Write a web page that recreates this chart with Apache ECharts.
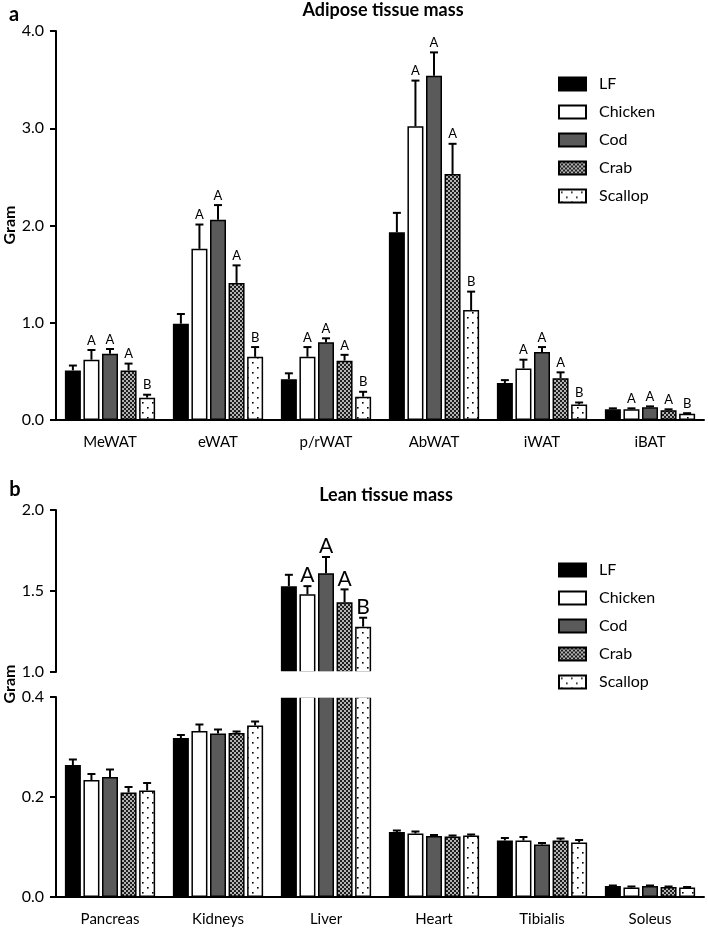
<!DOCTYPE html>
<html>
<head>
<meta charset="utf-8">
<script src="https://cdn.jsdelivr.net/npm/echarts@6/dist/echarts.min.js"></script>
<style>
  html, body { margin: 0; padding: 0; background: #fff; }
  #main { width: 708px; height: 928px; }
</style>
</head>
<body>
<div id="main"></div>
<script>
// 数据
var names = ["LF", "Chicken", "Cod", "Crab", "Scallop"];

var catsA = ["MeWAT", "eWAT", "p/rWAT", "AbWAT", "iWAT", "iBAT"];
var lfA = [0.51, 0.99, 0.42, 1.93, 0.38, 0.11];
var chickenA = [0.62, 1.76, 0.65, 3.02, 0.53, 0.11];
var codA = [0.68, 2.06, 0.80, 3.54, 0.70, 0.13];
var crabA = [0.51, 1.41, 0.61, 2.53, 0.43, 0.10];
var scallopA = [0.23, 0.65, 0.24, 1.13, 0.16, 0.065];
var lfAErr = [0.05, 0.10, 0.06, 0.20, 0.03, 0.01];
var chickenAErr = [0.10, 0.25, 0.10, 0.47, 0.09, 0.01];
var codAErr = [0.05, 0.15, 0.04, 0.24, 0.05, 0.01];
var crabAErr = [0.07, 0.18, 0.06, 0.31, 0.06, 0.01];
var scallopAErr = [0.03, 0.10, 0.05, 0.19, 0.02, 0.005];
var lettersA = ["", "A", "A", "A", "B"]; // same for every depot

var catsB = ["Pancreas", "Kidneys", "Liver", "Heart", "Tibialis", "Soleus"];
var lfB = [0.264, 0.318, 1.53, 0.130, 0.113, 0.022];
var chickenB = [0.234, 0.332, 1.48, 0.127, 0.113, 0.019];
var codB = [0.240, 0.327, 1.61, 0.122, 0.105, 0.022];
var crabB = [0.209, 0.328, 1.43, 0.121, 0.113, 0.020];
var scallopB = [0.213, 0.343, 1.28, 0.123, 0.109, 0.019];
var lfBErr = [0.011, 0.006, 0.07, 0.003, 0.005, 0.001];
var chickenBErr = [0.012, 0.013, 0.05, 0.004, 0.007, 0.002];
var codBErr = [0.015, 0.008, 0.10, 0.002, 0.003, 0.001];
var crabBErr = [0.011, 0.003, 0.08, 0.002, 0.004, 0.001];
var scallopBErr = [0.015, 0.008, 0.055, 0.002, 0.005, 0.001];
var lettersLiver = ["", "A", "A", "A", "B"];

var valsA = [lfA, chickenA, codA, crabA, scallopA];
var errsA = [lfAErr, chickenAErr, codAErr, crabAErr, scallopAErr];
var valsB = [lfB, chickenB, codB, crabB, scallopB];
var errsB = [lfBErr, chickenBErr, codBErr, crabBErr, scallopBErr];

// 填充图案
function checker() {
  var c = document.createElement("canvas");
  c.width = 4; c.height = 4;
  var g = c.getContext("2d");
  g.fillStyle = "#b4b4b4"; g.fillRect(0, 0, 4, 4);
  g.fillStyle = "#1e1e1e"; g.fillRect(0, 0, 2, 2); g.fillRect(2, 2, 2, 2);
  return c;
}
function dots() {
  var c = document.createElement("canvas");
  c.width = 10; c.height = 10;
  var g = c.getContext("2d");
  g.fillStyle = "#fff"; g.fillRect(0, 0, 10, 10);
  g.fillStyle = "#000";
  g.fillRect(2, 2, 1.6, 1.6); g.fillRect(7, 7, 1.6, 1.6);
  return c;
}
var fills = [
  "#000",
  "#fff",
  "#5a5a5a",
  { image: checker(), repeat: "repeat" },
  { image: dots(), repeat: "repeat" }
];

var FONT = "Lato";
var BAR_W = 16;
var STEP = BAR_W * 1.16;

function barSeries(i, data, axis) {
  return {
    name: names[i],
    type: "bar",
    xAxisIndex: axis,
    yAxisIndex: axis,
    data: data,
    barWidth: BAR_W,
    barGap: "16%",
    clip: true,
    itemStyle: { color: fills[i], borderColor: "#000", borderWidth: 1.5 },
    emphasis: { disabled: true },
    z: 2
  };
}

function errSeries(i, rows, axis, letters, fontSize) {
  return {
    type: "custom",
    xAxisIndex: axis,
    yAxisIndex: axis,
    data: rows,
    clip: false,
    z: 3,
    silent: true,
    renderItem: function (params, api) {
      var base = api.coord([api.value(0), api.value(1)]);
      var top = api.coord([api.value(0), api.value(2)]);
      var x = base[0] + (i - 2) * STEP;
      var kids = [
        { type: "line", shape: { x1: x, y1: base[1], x2: x, y2: top[1] },
          style: { stroke: "#000", lineWidth: 2 } },
        { type: "line", shape: { x1: x - 4, y1: top[1], x2: x + 4, y2: top[1] },
          style: { stroke: "#000", lineWidth: 2 } }
      ];
      var t = letters ? letters(api.value(0)) : "";
      if (t) {
        kids.push({ type: "text", style: {
          text: t, x: x, y: top[1] - (fontSize > 16 ? 0 : 3),
          align: "center", verticalAlign: "bottom",
          font: fontSize + "px " + FONT, fill: "#000" } });
      }
      return { type: "group", children: kids };
    }
  };
}

var series = [];
// a: 脂肪组织
for (var i = 0; i < 5; i++) {
  series.push(barSeries(i, valsA[i], 0));
}
for (var i = 0; i < 5; i++) {
  (function (i) {
    var rows = valsA[i].map(function (v, k) { return [k, v, v + errsA[i][k]]; });
    series.push(errSeries(i, rows, 0, function () { return lettersA[i]; }, 13));
  })(i);
}
// b: 上半段 (1.0 - 2.0) 只有肝脏
for (var i = 0; i < 5; i++) {
  series.push(barSeries(i, valsB[i].map(function (v) { return v > 1 ? v : "-"; }), 1));
}
for (var i = 0; i < 5; i++) {
  (function (i) {
    var rows = [];
    valsB[i].forEach(function (v, k) { if (v > 1) rows.push([k, v, v + errsB[i][k]]); });
    series.push(errSeries(i, rows, 1, function () { return lettersLiver[i]; }, 21));
  })(i);
}
// b: 下半段 (0 - 0.4)
for (var i = 0; i < 5; i++) {
  series.push(barSeries(i, valsB[i], 2));
}
for (var i = 0; i < 5; i++) {
  (function (i) {
    var rows = [];
    valsB[i].forEach(function (v, k) { if (v + errsB[i][k] < 0.4) rows.push([k, v, v + errsB[i][k]]); });
    series.push(errSeries(i, rows, 2, null, 13));
  })(i);
}

var axisLine = { lineStyle: { color: "#000", width: 2 } };
var axisLabel = { color: "#000", fontFamily: FONT, fontSize: 16 };

function xAxis(cats, grid, show) {
  return {
    type: "category", gridIndex: grid, data: cats, show: show,
    axisLine: axisLine,
    axisTick: { alignWithLabel: true, length: 6, lineStyle: { color: "#000", width: 2 } },
    axisLabel: Object.assign({ margin: 15 }, axisLabel, { fontSize: 15 })
  };
}
function yAxis(grid, min, max, interval) {
  return {
    type: "value", gridIndex: grid, min: min, max: max, interval: interval,
    axisLine: { show: true, lineStyle: { color: "#000", width: 2 } },
    axisTick: { show: true, length: 6, lineStyle: { color: "#000", width: 2 } },
    splitLine: { show: false },
    axisLabel: Object.assign({ margin: 12, formatter: function (v) { return v.toFixed(1); } }, axisLabel)
  };
}

function legend(top) {
  return {
    data: names, orient: "vertical", left: 553, top: top, icon: "rect",
    itemWidth: 27, itemHeight: 13, itemGap: 12, selectedMode: false,
    textStyle: { color: "#000", fontFamily: FONT, fontSize: 16, padding: [0, 0, 0, 8] }
  };
}

function txt(text, x, y, font, rot) {
  return {
    type: "text", x: x, y: y, rotation: rot || 0,
    style: { text: text, font: font, fill: "#000", align: "center", verticalAlign: "middle" }
  };
}

var option = {
  animation: false,
  backgroundColor: "#fff",
  grid: [
    { left: 56, right: 4, top: 31, height: 389 },
    { left: 56, right: 4, top: 510, height: 162 },
    { left: 56, right: 4, top: 697, height: 200 }
  ],
  xAxis: [xAxis(catsA, 0, true), xAxis(catsB, 1, false), xAxis(catsB, 2, true)],
  yAxis: [yAxis(0, 0, 4, 1), yAxis(1, 1, 2, 0.5), yAxis(2, 0, 0.4, 0.2)],
  legend: [legend(71), legend(557)],
  graphic: [
    // 断轴处遮住肝脏柱子的截断边框
    { type: "rect", z: 100, shape: { x: 270, y: 671.2, width: 112, height: 26.6 },
      style: { fill: "#fff" }, silent: true },
    txt("a", 14, 15, "bold 20px " + FONT),
    txt("b", 15, 490, "bold 20px " + FONT),
    txt("Adipose tissue mass", 383, 10, "bold 18px " + FONT),
    txt("Lean tissue mass", 386, 495, "bold 18px " + FONT),
    txt("Gram", 10, 225, "bold 16px " + FONT, Math.PI / 2),
    txt("Gram", 10, 684, "bold 16px " + FONT, Math.PI / 2)
  ],
  series: series
};

var chart = echarts.init(document.getElementById("main"), null, { renderer: "canvas" });
chart.setOption(option);
</script>
</body>
</html>
